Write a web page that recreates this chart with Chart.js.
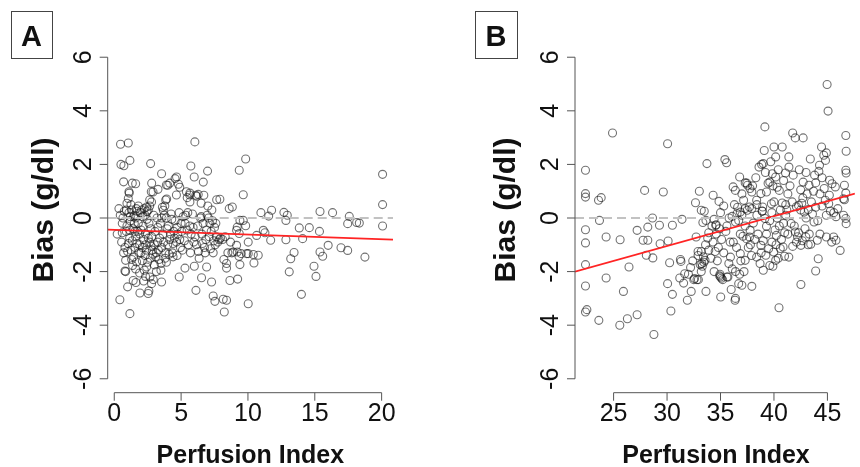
<!DOCTYPE html>
<html>
<head>
<meta charset="utf-8">
<script src="https://cdn.jsdelivr.net/npm/chart.js@4.4.1/dist/chart.umd.min.js"></script>
<style>
  html, body { margin: 0; padding: 0; background: #fff; }
  .panel { position: absolute; top: 0; width: 430px; height: 467px; }
  #wrapA { left: 0; }
  #wrapB { left: 430px; }
</style>
</head>
<body>
<div class="panel" id="wrapA"><canvas id="chartA"></canvas></div>
<div class="panel" id="wrapB"><canvas id="chartB"></canvas></div>
<script>
// --- data (perfusion index, bias g/dl) ---
const yTicks = [-6, -4, -2, 0, 2, 4, 6];
const xTicksA = [0, 5, 10, 15, 20];
const xTicksB = [25, 30, 35, 40, 45];

// regression lines: [intercept, slope]
const fitA = [-0.439, -0.0178];
const fitB = [-4.378, 0.1112];

const pointsA = [
  [0.47,2.75],[1.05,2.8],[0.5,2.0],[0.72,1.95],[1.17,2.15],[0.7,1.35],[1.35,1.3],[1.6,1.28],[1.12,0.93],[0.35,0.35],
  [0.22,-0.6],[0.42,-3.05],[1.17,-3.57],[0.8,-1.98],[0.85,-2.0],[1.0,-2.57],[0.85,-1.58],[2.72,2.03],[2.8,1.3],[2.9,0.97],
  [3.54,1.65],[4.0,1.22],[4.66,1.53],[4.9,1.15],[5.73,1.94],[6.03,2.84],[5.98,1.53],[6.66,1.34],[6.98,1.75],[5.66,0.93],
  [6.1,0.85],[6.7,0.85],[7.9,0.7],[8.6,0.35],[8.83,0.41],[9.35,1.78],[9.83,2.2],[9.65,0.87],[10.97,0.2],[11.77,0.29],
  [11.55,0.07],[12.69,0.21],[12.94,0.1],[12.84,-0.09],[13.84,-0.37],[14.59,-0.36],[15.39,0.24],[16.33,0.2],[17.58,0.06],[17.46,-0.21],
  [18.13,-0.17],[18.33,-0.19],[20.07,1.63],[20.07,0.5],[20.07,-0.3],[15.35,-0.5],[14.09,-0.77],[12.84,-0.81],[11.7,-0.83],[11.15,-0.46],
  [11.27,-0.55],[10.65,-0.65],[10.02,-0.9],[10.4,-1.36],[10.02,-1.33],[10.77,-1.39],[10.45,-1.68],[16.0,-1.02],[16.96,-1.11],[17.46,-1.21],
  [18.75,-1.46],[15.39,-1.27],[15.59,-1.43],[14.94,-1.8],[15.09,-2.18],[14.0,-2.85],[13.09,-2.01],[13.2,-1.52],[13.45,-1.29],[10.02,-3.2],
  [8.23,-3.51],[8.4,-3.07],[8.15,-3.03],[7.53,-3.11],[7.4,-2.91],[7.28,-2.39],[6.53,-2.23],[6.11,-2.7],[4.86,-2.2],[5.29,-1.87],
  [5.99,-1.8],[6.91,-1.83],[8.4,-1.7],[8.4,-1.87],[8.65,-2.33],[9.23,-2.28],[9.4,-1.74],[8.9,-1.27],[9.2,-1.27],[9.33,-1.43],
  [9.5,-1.33],[9.9,-1.33],[9.15,-0.46],[9.2,-0.34],[9.4,-0.09],[9.65,-0.09],[9.83,-0.29],[9.35,-0.58],[9.15,-1.02],
  [1.42,-2.33],[1.62,-2.41],[1.92,-2.8],[2.54,-2.82],[2.59,-2.72],[2.79,-2.45],[2.92,-2.3],[2.67,-2.2],[2.34,-2.18],[3.54,-2.39],
  [3.49,-1.95],[2.42,-1.83],[1.67,-1.64],[1.37,-1.77],[2.1,-1.6],[3.0,-1.75],[3.9,-1.65],[4.4,-1.45],[4.7,-1.4],[1.9,-2.05],[2.2,-2.35],
  [4.55,1.47],[4.8,1.26],[1.1,0.98],[1.05,0.73],[2.77,0.98],[2.65,0.67],[3.27,1.07],[3.9,1.23],[4.15,1.3],[3.85,0.67],
  [3.78,0.45],[4.65,0.86],[5.4,0.98],[5.65,0.86],[6.28,0.88],[6.16,0.81],[7.66,0.68],[2.42,0.41],[3.92,0.71],[2.79,0.6],
  [3.67,0.29],[5.66,0.6],[5.46,0.76],[6.5,0.55],[7.0,0.45],[7.3,0.3],
  [0.45,0.1],[0.6,-0.2],[0.75,0.25],[0.9,-0.5],[0.55,-0.9],[0.8,-1.1],[0.95,-0.3],[0.7,-1.3],[0.65,0.0],[0.9,0.3],
  [1.1,0.2],[1.2,-0.1],[1.3,0.3],[1.4,-0.4],[1.5,0.1],[1.6,-0.7],[1.7,0.25],[1.8,-0.2],[1.9,-1.0],[1.15,-0.75],
  [1.25,-1.2],[1.35,-0.85],[1.45,-1.45],[1.55,-1.1],[1.65,0.35],[1.75,-0.5],[1.85,-1.3],[1.95,0.2],[1.05,-0.95],[1.3,-1.55],
  [1.5,-0.2],[1.7,-0.95],[1.9,-0.6],[1.2,0.05],[1.6,0.0],
  [2.05,0.3],[2.15,-0.3],[2.25,0.35],[2.35,-0.6],[2.45,0.25],[2.55,0.3],[2.65,-0.9],[2.75,-0.4],[2.85,-1.2],[2.95,0.1],
  [2.1,-1.1],[2.2,-0.8],[2.3,-1.4],[2.4,-1.2],[2.5,-1.65],[2.6,-0.2],[2.7,-1.5],[2.8,-0.7],[2.9,-1.35],[2.0,-0.45],
  [2.45,-0.05],[2.15,0.05],[2.65,0.45],[2.35,-1.0],
  [3.05,-0.5],[3.15,-1.3],[3.25,-0.9],[3.35,-1.55],[3.45,-0.2],[3.55,-1.1],[3.65,-0.6],[3.75,0.1],[3.85,-1.3],[3.95,-0.4],
  [3.1,-1.45],[3.3,-1.2],[3.5,-1.7],[3.7,-0.9],[3.9,0.0],[3.2,0.0],[3.4,-0.75],[3.6,0.4],[3.8,-1.5],[3.0,-1.0],
  [4.05,-0.3],[4.15,-0.8],[4.25,0.15],[4.35,-1.3],[4.45,-0.5],[4.55,-0.1],[4.65,-0.9],[4.75,-0.6],[4.85,0.2],[4.95,-1.1],
  [4.1,-1.35],[4.3,-0.05],[4.5,-0.75],[4.7,-0.35],[4.9,-0.8],[4.2,-0.6],
  [5.05,-0.5],[5.15,0.05],[5.25,-0.85],[5.35,0.1],[5.45,-0.45],[5.55,-1.0],[5.65,-0.3],[5.75,-0.6],[5.85,0.15],[5.95,-0.9],
  [5.1,-1.2],[5.3,-0.2],[5.5,0.2],[5.7,-1.3],[5.9,-0.35],
  [6.05,-0.7],[6.15,-1.0],[6.25,-0.3],[6.35,-1.5],[6.45,0.0],[6.55,-0.6],[6.65,-0.2],[6.75,-1.1],[6.85,-0.8],[6.95,0.1],
  [6.3,-1.25],[6.6,-0.95],[6.9,-0.45],[6.5,0.05],[6.8,-1.3],
  [7.05,0.0],[7.15,-0.2],[7.25,-0.5],[7.35,-0.1],[7.45,-0.85],[7.55,-1.0],[7.65,-0.7],[7.75,-0.9],[7.85,-0.8],[7.95,-0.75],
  [7.2,-1.15],[7.4,-1.3],[7.6,-0.2],[7.1,-0.7],[7.5,-0.35],
  [8.1,-0.8],[8.3,-0.7],[8.5,-1.3],[8.7,-0.9],[8.2,-1.55],[8.8,-1.3],
  [0.95,0.55],[1.25,0.5],[1.45,0.05],[1.8,0.45],[2.3,0.1],[1.15,-0.45],[1.55,-0.5],[2.0,-1.3],[2.55,-0.75],[2.75,-1.05],
  [0.6,-0.55],[1.0,-1.25],[1.6,-1.9],[2.25,-1.95],[3.15,-2.0],[3.25,-0.35],[3.55,0.0],[4.0,-1.0],[4.4,-0.95],[5.0,-0.2]
];

const pointsB = [
  [22.37,1.78],[22.37,0.91],[22.37,0.78],[22.37,-0.44],[22.37,-0.93],[22.37,-1.74],[22.37,-2.54],[22.37,-3.51],[22.5,-3.42],[23.59,0.66],
  [23.84,0.76],[23.68,-0.09],[24.3,-0.71],[24.3,-2.24],[23.62,-3.82],[24.9,3.17],[25.61,-0.81],[25.92,-2.74],[26.44,-1.83],[25.58,-4.0],
  [26.29,-3.76],[27.2,-3.61],[27.2,-0.46],[27.9,1.03],[27.76,-0.83],[28.2,-0.83],[28.2,-0.34],[28.64,0.0],[28.06,-1.39],[28.67,-1.49],
  [28.77,-4.35],[29.29,-0.27],[29.35,-0.96],[29.65,0.97],[30.05,2.77],[30.1,-0.86],[30.5,-0.27],[30.24,-1.67],[30.05,-2.45],[30.5,-2.85],
  [30.36,-3.47],[31.4,-0.05],[31.25,-1.55],[31.3,-1.62],[31.19,-2.24],[31.65,-2.08],[31.55,-2.43],[31.9,-3.07],[32.26,-2.74],[32.57,-2.26],
  [32.93,-2.3],[32.66,0.57],[33.02,1.0],[32.72,-0.71],[33.48,0.25],[33.64,-0.09],[33.73,2.03],[33.64,-2.74],[33.1,-1.74],
  [33.3,-1.8],[33.45,-1.65],[33.4,-1.45],[33.2,-1.25],[33.6,-1.0],[33.8,-0.75],[33.9,-1.2],[34.1,-1.5],[34.3,-0.9],[34.5,-1.25],
  [34.6,-0.6],[34.8,-1.1],[34.9,-0.4],[34.2,-0.3],[33.9,-0.55],[34.7,-1.6],[34.4,-2.0],[35.1,-0.8],[35.3,-1.3],[35.5,-0.5],
  [35.2,-2.3],[35.0,-2.2],[34.95,-2.1],
  [34.31,0.85],[34.86,0.62],[34.4,-0.05],[34.6,-0.25],[35.02,-2.95],[35.41,2.18],[35.57,2.06],[34.92,-2.16],[35.1,-2.25],[35.69,-2.2],
  [36.18,1.16],[36.39,1.03],[36.79,1.53],[37.31,1.31],[37.53,1.22],[37.93,0.97],[37.16,0.66],[37.71,0.41],[36.36,-3.07],[36.0,-2.67],
  [36.7,-2.45],[36.79,-2.1],[37.0,-2.51],[37.93,-2.55],[37.31,-1.58],[36.85,-1.33],[35.78,-1.7],[35.93,-1.46],
  [39.15,3.4],[39.09,2.52],[39.0,2.03],[38.85,2.0],[40.0,2.65],[40.16,2.28],[40.77,2.65],[41.39,2.28],[41.75,3.17],[41.99,2.99],
  [42.73,2.99],[41.08,1.68],[39.85,1.65],[40.16,1.53],[39.61,1.34],[39.45,1.3],[39.9,1.2],[40.3,1.15],[40.5,1.03],[39.3,0.97],
  [38.78,0.91],[38.38,0.66],[38.94,0.41],[38.9,0.26],[39.76,0.53],[40.77,0.56],[41.1,0.5],[42.37,1.8],[42.73,1.34],[43.28,1.22],
  [43.9,1.31],[44.2,1.74],[44.26,1.97],[44.45,2.65],[44.66,2.34],[44.9,2.43],[44.82,2.15],[44.97,4.98],[45.06,3.99],[46.72,3.08],
  [46.75,2.49],[46.72,1.78],[46.75,1.68],[46.59,1.22],[46.72,0.93],[46.59,0.68],[46.5,0.72],[46.72,-0.02],[46.75,-0.21],[46.19,-1.21],
  [45.8,-0.83],[45.58,-0.71],[44.9,-0.71],[44.05,-0.83],[44.14,-1.52],[43.9,-1.98],[42.52,-2.48],[40.47,-3.35],[39.0,-1.95],[39.61,-1.77],
  [39.9,-1.8],[40.16,-1.58],[40.4,-1.5],[40.99,-1.43],[41.39,-1.46],[39.98,-1.27],[39.24,-1.39],[38.38,-1.46],[38.78,-1.02],[39.5,-1.15],
  [40.59,-1.14],[40.85,-1.08],[41.75,-1.06],[42.52,-1.02],[42.65,-0.85],[43.44,-0.98],[43.75,-0.15],[42.98,-0.71],[42.2,-0.7],[42.0,-0.52],
  [41.3,-0.6],[40.22,-0.65],[40.1,-0.45],[39.3,-0.31],[39.15,-0.02],[38.9,0.25],[38.4,0.1],[38.07,-0.19],[37.77,-0.46],[37.71,-0.71],
  [37.45,-0.78],[37.1,-0.68],[36.85,-0.6],[36.7,-0.09],[36.4,-0.15],[36.08,0.06],[36.85,0.22],[37.0,0.1],[37.31,0.35],[37.93,0.35],[38.4,0.5],
  [42.3,0.47],[42.5,0.3],[42.83,0.22],[43.2,0.32],[43.6,0.15],[43.0,0.0],[42.6,0.55],[42.1,0.42],
  [45.2,1.41],[45.43,1.28],[45.74,1.16],[45.12,0.53],[45.28,0.26],[45.6,0.2],[45.97,0.35],[45.8,0.05],[46.5,0.1],[45.18,0.85],
  [44.8,0.66],[44.5,0.45],
  [36.2,-0.9],[36.5,-1.1],[36.9,-1.6],[37.3,-0.3],[37.6,-1.1],[37.9,-1.4],[38.2,-0.8],[38.5,-0.6],[38.7,-1.7],[39.0,-0.85],
  [39.3,-0.6],[39.6,-0.1],[39.8,0.2],[40.0,0.6],[40.3,0.0],[40.5,-0.3],[40.7,-0.8],[40.9,-0.2],[41.1,0.1],[41.3,0.9],
  [41.5,1.2],[41.7,0.6],[41.9,-0.3],[42.1,-0.9],[42.3,-0.55],[42.5,1.05],[42.7,0.75],[42.9,-0.4],[43.1,0.9],[43.3,-0.6],
  [43.5,0.6],[43.7,1.0],[43.9,0.4],[44.1,-0.1],[44.3,0.9],[44.5,1.5],[44.7,1.1],[44.9,0.1],[38.0,1.2],[38.3,1.5],
  [38.6,1.9],[39.2,1.7],[39.7,2.1],[40.4,1.8],[40.9,1.4],[41.4,1.9],[41.8,1.6],[43.0,1.7],[43.4,2.2],[43.8,1.6],
  [36.6,0.4],[37.0,0.9],[36.3,0.5],[35.8,0.0],[35.6,-0.3],[35.9,-0.9],[36.1,-1.9],[36.4,-2.0],[37.2,-2.0],[37.8,-1.0],
  [38.8,-1.3],[39.8,-0.9],[40.2,-1.0],[41.0,-0.55],[41.6,-0.2],[40.6,0.3],[41.2,0.3],[43.2,-1.0],[44.3,-0.6],[45.4,-0.9],
  [35.3,0.45],[35.0,0.2],[32.2,-1.85],[32.0,-2.1],[32.4,-1.6],[32.9,-1.4],[33.2,-2.0],
  [33.2,0.29],[33.35,-0.17],[34.55,-0.27],[36.55,0.17],[37.5,0.29],[32.9,-1.25],[33.25,-1.7],[33.55,-1.58],[32.5,-2.3],[32.8,-2.3],
  [36.4,-3.0],[35.6,-2.2],[37.45,1.3],[37.76,1.1]
];

// --- R-style axes, labels and panel letters ---
const baseFont = '"Liberation Sans", Arial, Helvetica, sans-serif';

function axesPlugin(cfg) {
  return {
    id: 'rAxes',
    afterDraw(chart) {
      const { ctx, chartArea, scales: { x, y } } = chart;
      const left = chartArea.left, bottom = chartArea.bottom;
      ctx.save();
      ctx.strokeStyle = '#555';
      ctx.lineWidth = 1;
      ctx.beginPath();
      ctx.moveTo(left, y.getPixelForValue(yTicks[0]));
      ctx.lineTo(left, y.getPixelForValue(yTicks[yTicks.length - 1]));
      yTicks.forEach(v => {
        const p = y.getPixelForValue(v);
        ctx.moveTo(left, p);
        ctx.lineTo(left - 8, p);
      });
      ctx.moveTo(x.getPixelForValue(cfg.xTicks[0]), bottom);
      ctx.lineTo(x.getPixelForValue(cfg.xTicks[cfg.xTicks.length - 1]), bottom);
      cfg.xTicks.forEach(v => {
        const p = x.getPixelForValue(v);
        ctx.moveTo(p, bottom);
        ctx.lineTo(p, bottom + 8);
      });
      ctx.stroke();

      ctx.fillStyle = '#111';
      ctx.textAlign = 'center';
      ctx.textBaseline = 'alphabetic';
      ctx.font = '25px ' + baseFont;
      cfg.xTicks.forEach(v => ctx.fillText(String(v), x.getPixelForValue(v), bottom + 28));
      yTicks.forEach(v => {
        ctx.save();
        ctx.translate(left - 17, y.getPixelForValue(v));
        ctx.rotate(-Math.PI / 2);
        ctx.fillText(String(v), 0, 0);
        ctx.restore();
      });

      // axis titles
      ctx.font = 'bold 25px ' + baseFont;
      ctx.fillText('Perfusion Index', (chartArea.left + cfg.titleRight) / 2, 463);
      ctx.save();
      ctx.font = 'bold 30px ' + baseFont;
      ctx.translate(cfg.yTitleX, 210);
      ctx.rotate(-Math.PI / 2);
      ctx.fillText('Bias (g/dl)', 0, 0);
      ctx.restore();

      // panel letter
      ctx.strokeStyle = '#444';
      ctx.strokeRect(cfg.box[0] + 0.5, cfg.box[1] + 0.5, cfg.box[2], cfg.box[3]);
      ctx.font = 'bold 29px ' + baseFont;
      ctx.fillText(cfg.letter, cfg.box[0] + cfg.box[2] / 2, 46);
      ctx.restore();
    }
  };
}

function makeChart(id, cfg) {
  const fitLine = [cfg.xMin, cfg.xMax].map(v => ({ x: v, y: cfg.fit[0] + cfg.fit[1] * v }));
  return new Chart(document.getElementById(id), {
    type: 'scatter',
    data: {
      datasets: [
        {
          type: 'line',
          data: [{ x: cfg.xMin, y: 0 }, { x: cfg.xMax, y: 0 }],
          borderColor: '#c2c2c2', borderWidth: 2, borderDash: [9, 5],
          pointRadius: 0, fill: false, order: 0
        },
        {
          type: 'line',
          data: fitLine,
          borderColor: '#ff2424', borderWidth: 1.8,
          pointRadius: 0, fill: false, order: 0
        },
        {
          data: cfg.points.map(p => ({ x: p[0], y: p[1] })),
          pointRadius: 4, borderWidth: 1.1,
          borderColor: 'rgba(20,20,20,0.6)',
          backgroundColor: 'rgba(0,0,0,0)',
          order: 1
        }
      ]
    },
    options: {
      responsive: true,
      maintainAspectRatio: false,
      animation: false,
      layout: { padding: cfg.pad },
      plugins: { legend: { display: false }, tooltip: { enabled: false } },
      scales: {
        x: { type: 'linear', display: false, min: cfg.xMin, max: cfg.xMax },
        y: { type: 'linear', display: false, min: -6.52, max: 6.52 }
      }
    },
    plugins: [axesPlugin(cfg)]
  });
}

document.addEventListener('DOMContentLoaded', () => {
  makeChart('chartA', {
    points: pointsA, fit: fitA, xTicks: xTicksA,
    xMin: -0.49, xMax: 20.85,
    pad: { left: 107.7, right: 37, top: 43.3, bottom: 74.3 },
    titleRight: 393, yTitleX: 52.7,
    box: [11, 11, 41, 47], letter: 'A'
  });
  makeChart('chartB', {
    points: pointsB, fit: fitB, xTicks: xTicksB,
    xMin: 21.39, xMax: 47.57,
    pad: { left: 145, right: 0, top: 43.3, bottom: 74.3 },
    titleRight: 427, yTitleX: 85,
    box: [45, 11, 42, 47], letter: 'B'
  });
});
</script>
</body>
</html>
